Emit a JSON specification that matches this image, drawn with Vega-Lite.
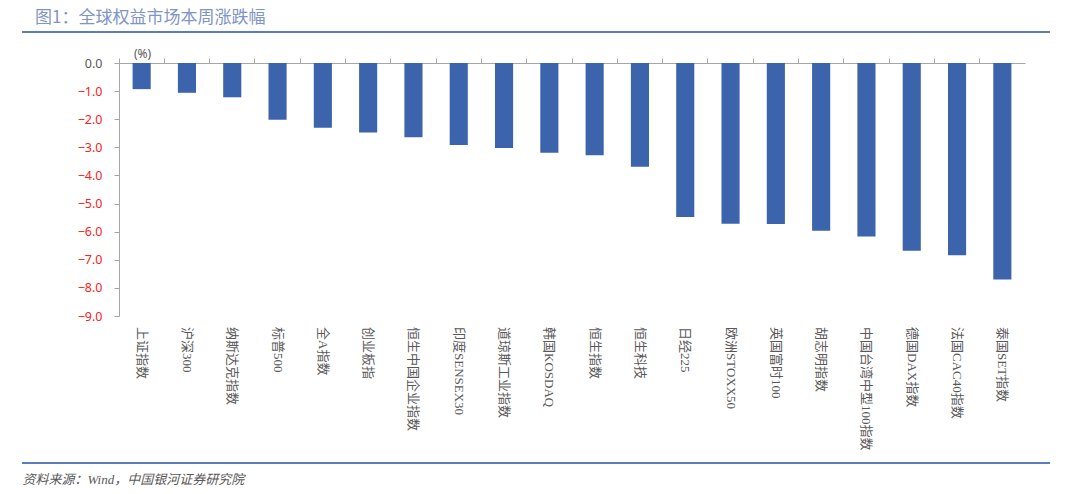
{
  "$schema": "https://vega.github.io/schema/vega-lite/v6.json",
  "width": 906,
  "height": 253,
  "autosize": {"type": "none"},
  "padding": {"left": 119, "top": 63, "right": 55, "bottom": 178},
  "background": "white",
  "config": {"view": {"stroke": null}, "axis": {"labelOverlap": false}},
  "title": {
    "text": "图1：全球权益市场本周涨跌幅",
    "anchor": "start",
    "frame": "group",
    "dx": -84,
    "offset": 4,
    "fontSize": 17,
    "fontWeight": "normal",
    "font": "Noto Sans CJK SC",
    "color": "#7f95c5"
  },
  "data": {
    "values": [
      {"index": "上证指数", "change": -0.93},
      {"index": "沪深300", "change": -1.06},
      {"index": "纳斯达克指数", "change": -1.22},
      {"index": "标普500", "change": -2.02},
      {"index": "全A指数", "change": -2.30},
      {"index": "创业板指", "change": -2.47},
      {"index": "恒生中国企业指数", "change": -2.64},
      {"index": "印度SENSEX30", "change": -2.92},
      {"index": "道琼斯工业指数", "change": -3.02},
      {"index": "韩国KOSDAQ", "change": -3.19},
      {"index": "恒生指数", "change": -3.28},
      {"index": "恒生科技", "change": -3.69},
      {"index": "日经225", "change": -5.48},
      {"index": "欧洲STOXX50", "change": -5.72},
      {"index": "英国富时100", "change": -5.73},
      {"index": "胡志明指数", "change": -5.97},
      {"index": "中国台湾中型100指数", "change": -6.17},
      {"index": "德国DAX指数", "change": -6.68},
      {"index": "法国CAC40指数", "change": -6.84},
      {"index": "泰国SET指数", "change": -7.70}
    ]
  },
  "resolve": {"axis": {"x": "independent", "y": "independent"}},
  "layer": [
    {
      "mark": {"type": "bar", "color": "#3b64ad", "width": {"band": 0.4}},
      "encoding": {
        "x": {
          "field": "index",
          "type": "nominal",
          "sort": null,
          "scale": {"paddingInner": 0, "paddingOuter": 0},
          "axis": {
            "orient": "top",
            "labels": false,
            "tickSize": 5,
            "bandPosition": 0,
            "tickColor": "#a6a6a6",
            "domainColor": "#a6a6a6",
            "title": "资料来源：Wind，中国银河证券研究院",
            "titleX": -97,
            "titleY": 416,
            "titleAlign": "left",
            "titleBaseline": "middle",
            "titleAngle": 0,
            "titleFontSize": 13,
            "titleFontStyle": "italic",
            "titleFontWeight": "normal",
            "titleFont": "Liberation Serif, Noto Sans CJK SC",
            "titleColor": "#595959"
          }
        },
        "y": {
          "field": "change",
          "type": "quantitative",
          "scale": {"domain": [-9, 0], "nice": false},
          "axis": {
            "orient": "left",
            "values": [0, -1, -2, -3, -4, -5, -6, -7, -8, -9],
            "format": ".1f",
            "grid": false,
            "labelOverlap": false,
            "labelFlush": false,
            "tickSize": 5,
            "tickColor": "#a6a6a6",
            "domainColor": "#a6a6a6",
            "labelPadding": 12,
            "labelFontSize": 12.5,
            "labelFont": "Noto Sans",
            "labelColor": {"condition": {"test": "datum.value < 0", "value": "#ff2020"}, "value": "#595959"},
            "title": "(%)",
            "titleAngle": 0,
            "titleX": 23,
            "titleY": -3,
            "titleAlign": "center",
            "titleBaseline": "bottom",
            "titleFontSize": 12,
            "titleFontWeight": "normal",
            "titleFont": "Noto Sans",
            "titleColor": "#595959"
          }
        }
      }
    },
    {
      "mark": {
        "type": "text",
        "angle": 90,
        "align": "left",
        "baseline": "middle",
        "dx": 11,
        "fontSize": 13,
        "font": "Liberation Serif, Noto Sans CJK SC",
        "color": "#595959"
      },
      "encoding": {
        "x": {"field": "index", "type": "nominal", "sort": null, "axis": null},
        "y": {"datum": -9, "type": "quantitative", "axis": null},
        "text": {"field": "index", "type": "nominal"}
      }
    },
    {
      "data": {"values": [{"pos": 1.103}, {"pos": -14.23}]},
      "mark": {"type": "rule", "color": "#5a7dbf", "strokeWidth": 2},
      "encoding": {
        "y": {"field": "pos", "type": "quantitative", "axis": null},
        "x": {"value": -97},
        "x2": {"value": 931}
      }
    }
  ]
}
